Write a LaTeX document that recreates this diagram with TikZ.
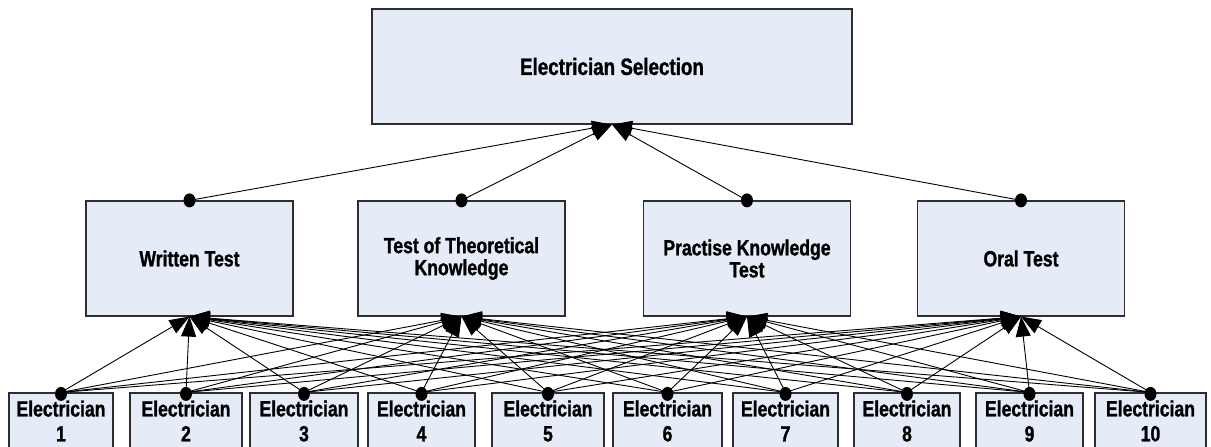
\documentclass[tikz,border=0pt]{standalone}
\usepackage{fontspec}
\setmainfont{Liberation Sans}[FakeStretch=0.8,BoldFeatures={FakeBold=1.2}]
\usetikzlibrary{arrows.meta}
\definecolor{boxfill}{RGB}{230,236,247}
\definecolor{boxline}{RGB}{45,45,50}
\begin{document}
\begin{tikzpicture}[x=1pt,y=-1pt,
  box/.style={draw=boxline,fill=boxfill,line width=1.2pt,rectangle,inner sep=0pt,
    align=center,font=\bfseries\fontsize{22}{22}\selectfont},
  topbox/.style={box,minimum width=480pt,minimum height=115pt,
    font=\bfseries\fontsize{23.5}{26}\selectfont},
  midbox/.style={box,minimum width=207pt,minimum height=115pt},
  candbox/.style={box,minimum height=56pt,font=\bfseries\fontsize{22}{25}\selectfont},
  link/.style={line width=0.9pt,-{Triangle[length=20pt,width=15pt]}},
  dot/.style={fill=black}
]
\useasboundingbox (0,0) rectangle (1211,447);

% goal
\node[topbox] (sel) at (612,66.5) {Electrician Selection};

% criteria
\node[midbox] (m1) at (189.5,258.5) {Written Test};
\node[midbox] (m2) at (461.5,258.5) {Test of Theoretical\\Knowledge};
\node[midbox] (m3) at (747,258.5) {Practise Knowledge\\Test};
\node[midbox] (m4) at (1021,258.5) {Oral Test};

% alternatives
\node[candbox,minimum width=104pt] (e1) at (61,421) {Electrician\\1};
\node[candbox,minimum width=112pt] (e2) at (186,421) {Electrician\\2};
\node[candbox,minimum width=108pt] (e3) at (304,421) {Electrician\\3};
\node[candbox,minimum width=107pt] (e4) at (421.5,421) {Electrician\\4};
\node[candbox,minimum width=112pt] (e5) at (548,421) {Electrician\\5};
\node[candbox,minimum width=109pt] (e6) at (667.5,421) {Electrician\\6};
\node[candbox,minimum width=105pt] (e7) at (785.5,421) {Electrician\\7};
\node[candbox,minimum width=106pt] (e8) at (907,421) {Electrician\\8};
\node[candbox,minimum width=107pt] (e9) at (1029.5,421) {Electrician\\9};
\node[candbox,minimum width=111pt] (e10) at (1150.5,421) {Electrician\\10};

% every alternative feeds every criterion
\foreach \e in {1,...,10}{
  \foreach \m in {1,...,4}{
    \draw[link] (e\e.north) -- (m\m.south);
  }
}
% criteria feed the goal
\foreach \m in {1,...,4}{
  \draw[link] (m\m.north) -- (sel.south);
}

% connection dots
\foreach \e in {1,...,10}{
  \fill[dot] ([yshift=-1.5pt]e\e.north) ellipse (6pt and 7pt);
}
\foreach \m in {1,...,4}{
  \fill[dot] (m\m.north) ellipse (6pt and 7pt);
}
\end{tikzpicture}
\end{document}
